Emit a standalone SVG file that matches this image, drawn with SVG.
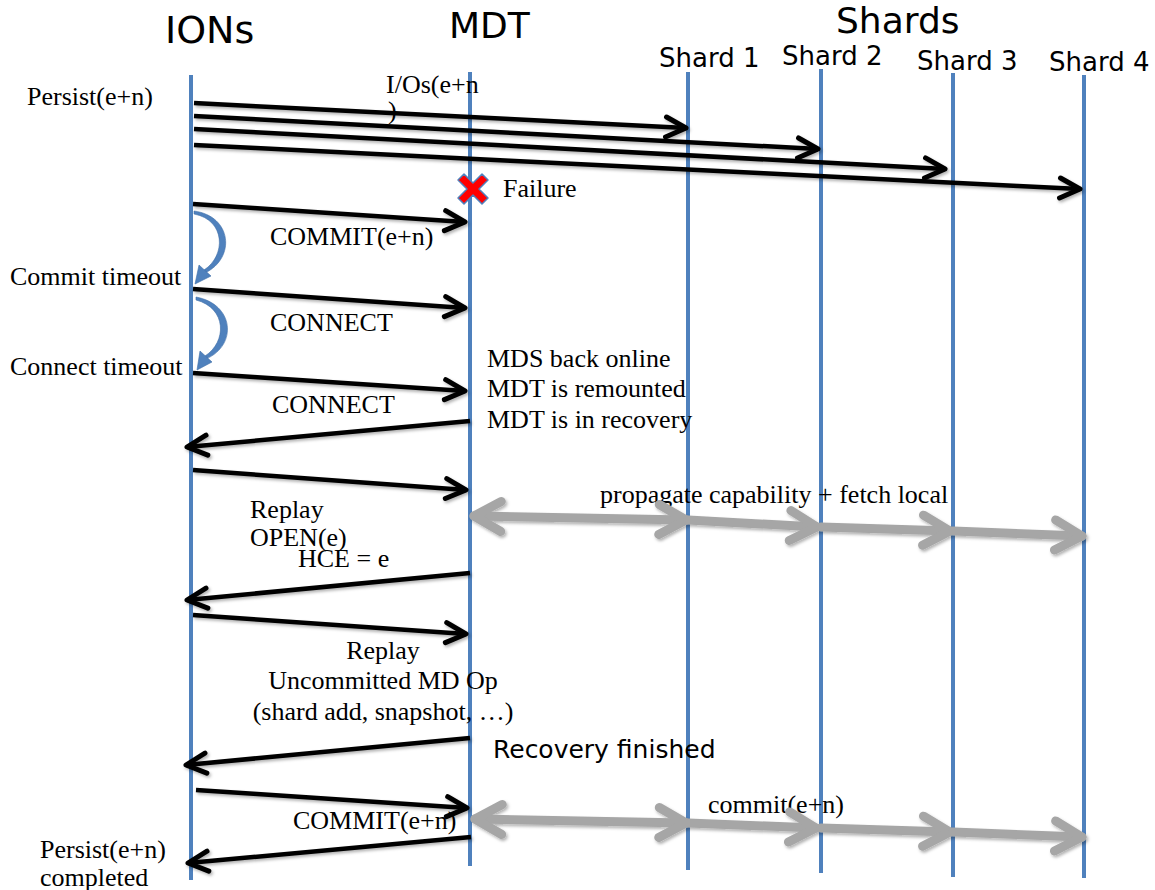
<svg xmlns="http://www.w3.org/2000/svg" width="1155" height="890" viewBox="0 0 1155 890">
<style>
.life{stroke:#4F81BD;stroke-width:4;fill:none}
.msg{stroke:#000;stroke-width:4.5;fill:none;marker-end:url(#ah)}
.gray{stroke:#A6A6A6;stroke-width:9;fill:none;stroke-linecap:round;marker-end:url(#gh)}
.serif{font-family:"Liberation Serif","Times New Roman",serif;font-size:26px;fill:#000}
.sans{font-family:"DejaVu Sans",Verdana,sans-serif;fill:#000}
.loop{fill:#4F81BD;stroke:#3F6FA8;stroke-width:0.6}
</style>
<defs>
<filter id="sh" filterUnits="userSpaceOnUse" x="0" y="0" width="1155" height="890">
<feDropShadow dx="1.5" dy="2" stdDeviation="1.5" flood-color="#000" flood-opacity="0.3"/>
</filter>
<marker id="ah" markerUnits="userSpaceOnUse" viewBox="-26 -16 30 32" refX="0" refY="0" markerWidth="30" markerHeight="32" orient="auto" overflow="visible">
<path d="M-20,-10 L0,0 L-20,10" fill="none" stroke="#000" stroke-width="5" stroke-linejoin="round" stroke-linecap="round"/>
</marker>
<marker id="gh" markerUnits="userSpaceOnUse" viewBox="-34 -20 40 40" refX="0" refY="0" markerWidth="40" markerHeight="40" orient="auto-start-reverse" overflow="visible">
<path d="M-27,-15 L0,0 L-27,15" fill="none" stroke="#A6A6A6" stroke-width="9" stroke-linejoin="round" stroke-linecap="round"/>
</marker>
</defs>

<g id="lifelines">
<g id="ions"><line class="life" x1="191" y1="75" x2="191" y2="880"/><text class="sans" x="165" y="43" font-size="38">IONs</text></g>
<g id="mdt"><line class="life" x1="470" y1="72" x2="470" y2="866"/><text class="sans" x="449" y="38" font-size="36">MDT</text></g>
<g id="shards"><text class="sans" x="836" y="33" font-size="36">Shards</text></g>
<g id="shard1"><line class="life" x1="688" y1="72" x2="688" y2="870"/><text class="sans" x="659" y="67" font-size="26">Shard 1</text></g>
<g id="shard2"><line class="life" x1="821" y1="69" x2="821" y2="873"/><text class="sans" x="782" y="65" font-size="26">Shard 2</text></g>
<g id="shard3"><line class="life" x1="953" y1="73" x2="953" y2="877"/><text class="sans" x="917" y="70" font-size="26">Shard 3</text></g>
<g id="shard4"><line class="life" x1="1084" y1="75" x2="1084" y2="878"/><text class="sans" x="1049" y="71" font-size="26">Shard 4</text></g>
</g>

<g id="labels">
<text class="serif" x="27" y="105">Persist(e+n)</text>
<text class="serif" x="386" y="93">I/Os(e+n</text>
<text class="serif" x="388" y="119">)</text>
<text class="serif" x="503" y="197">Failure</text>
<text class="serif" x="270" y="245">COMMIT(e+n)</text>
<text class="serif" x="10" y="285">Commit timeout</text>
<text class="serif" x="270" y="331">CONNECT</text>
<text class="serif" x="10" y="375">Connect timeout</text>
<text class="serif" x="272" y="413">CONNECT</text>
<text class="serif" x="487" y="367">MDS back online</text>
<text class="serif" x="487" y="397">MDT is remounted</text>
<text class="serif" x="487" y="428">MDT is in recovery</text>
<text class="serif" x="600" y="503">propagate capability + fetch local</text>
<text class="serif" x="250" y="518">Replay</text>
<text class="serif" x="250" y="546">OPEN(e)</text>
<text class="serif" x="298" y="567">HCE = e</text>
<text class="serif" x="383" y="659" text-anchor="middle">Replay</text>
<text class="serif" x="383" y="689" text-anchor="middle">Uncommitted MD Op</text>
<text class="serif" x="383" y="720" text-anchor="middle">(shard add, snapshot, …)</text>
<text class="sans" x="493" y="758" font-size="25">Recovery finished</text>
<text class="serif" x="708" y="813">commit(e+n)</text>
<text class="serif" x="293" y="829">COMMIT(e+n)</text>
<text class="serif" x="40" y="858">Persist(e+n)</text>
<text class="serif" x="40" y="886">completed</text>
</g>

<g id="failure">
<path d="M458,180 L464,174 L473,183 L482,174 L488,180 L479,189 L488,198 L482,204 L473,195 L464,204 L458,198 L467,189 Z" fill="#FF0000" stroke="#4F81BD" stroke-width="1.5" stroke-linejoin="round"/>
</g>

<g id="timeouts">
<path class="loop" d="M194,211 C232,216 236,258 205,273 L204,270 C226,256 226,220 194,214 Z"/>
<polygon class="loop" points="195,284 199,265 211,276"/>
<path class="loop" d="M196,297 C234,304 238,345 206,359 L205,356 C227,342 227,308 196,300 Z"/>
<polygon class="loop" points="197,370 200,351 212,362"/>
</g>

<g id="connectors" filter="url(#sh)">
<line class="msg" x1="194" y1="103" x2="686" y2="128"/>
<line class="msg" x1="194" y1="116" x2="818" y2="149"/>
<line class="msg" x1="194" y1="129" x2="945" y2="169"/>
<line class="msg" x1="194" y1="145" x2="1080" y2="189"/>
<line class="msg" x1="193" y1="204" x2="465" y2="222"/>
<line class="msg" x1="193" y1="289" x2="465" y2="308"/>
<line class="msg" x1="193" y1="373" x2="465" y2="391"/>
<line class="msg" x1="470" y1="421" x2="187" y2="447"/>
<line class="msg" x1="193" y1="470" x2="466" y2="490"/>
<line class="msg" x1="470" y1="573" x2="187" y2="600"/>
<line class="msg" x1="193" y1="615" x2="466" y2="634"/>
<line class="msg" x1="470" y1="738" x2="186" y2="765"/>
<line class="msg" x1="196" y1="790" x2="467" y2="808"/>
<line class="msg" x1="471" y1="837" x2="188" y2="863"/>

<line class="gray" x1="474" y1="516" x2="686" y2="520" marker-start="url(#gh)"/>
<line class="gray" x1="688" y1="520" x2="817" y2="527"/>
<line class="gray" x1="821" y1="527" x2="950" y2="531"/>
<line class="gray" x1="953" y1="531" x2="1082" y2="536"/>

<line class="gray" x1="475" y1="819" x2="686" y2="823" marker-start="url(#gh)"/>
<line class="gray" x1="688" y1="823" x2="816" y2="828"/>
<line class="gray" x1="821" y1="828" x2="950" y2="832"/>
<line class="gray" x1="953" y1="832" x2="1082" y2="837"/>
</g>
</svg>
